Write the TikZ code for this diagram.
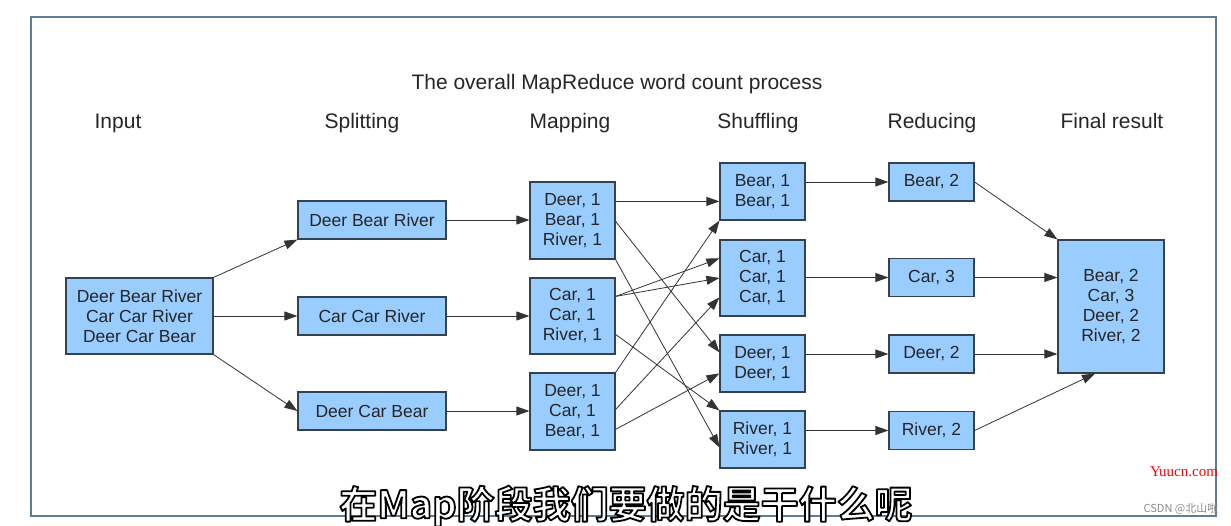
\documentclass[tikz,border=0pt]{standalone}
\usepackage{fontspec}
\setmainfont{Liberation Sans}
\newfontfamily\cjk{Noto Sans CJK SC}
\newfontfamily\cjkbold{Noto Sans CJK SC Bold}
\newfontfamily\wmserif{Liberation Serif}
\usetikzlibrary{arrows.meta,calc}
\definecolor{boxfill}{HTML}{99CCFF}
\definecolor{boxline}{HTML}{34424F}
\definecolor{framecol}{HTML}{5F7C95}
\newcommand{\outlinedtext}[1]{\special{pdf:literal direct 2 Tr 1.8 w 1 j 0 G}#1\special{pdf:literal direct 0 Tr}}
\tikzset{
  box/.style={draw=boxline, fill=boxfill, line width=1.2pt, font=\fontsize{17.5}{20}\selectfont, align=center, inner sep=0pt, text=black!85},
  hdr/.style={font=\fontsize{21}{24}\selectfont, text=black!85, anchor=base, inner sep=0pt},
  arr/.style={-{Triangle[length=13pt,width=9pt]}, line width=0.8pt, draw=black!80},
  subt/.style={font=\cjkbold\fontsize{38}{40}\selectfont, inner sep=0pt},
}
\begin{document}
\begin{tikzpicture}[x=1pt,y=-1pt]
\useasboundingbox (0,0) rectangle (1231,526);
\fill[white] (0,0) rectangle (1231,526);
\draw[framecol, line width=2pt] (31,17) rectangle (1216,516);

% headers
\node[hdr] (title) at (617,90) {The overall MapReduce word count process};
\node[hdr] (hin) at (118,129) {Input};
\node[hdr] (hsp) at (362,129) {Splitting};
\node[hdr] (hma) at (570,129) {Mapping};
\node[hdr] (hsh) at (758,129) {Shuffling};
\node[hdr] (hre) at (932,129) {Reducing};
\node[hdr] (hfi) at (1112,129) {Final result};

% input
\node[box, minimum width=147pt, minimum height=76pt] (in) at (139.5,316) {Deer Bear River\\Car Car River\\Deer Car Bear};
% splitting
\node[box, minimum width=148pt, minimum height=38pt] (s1) at (372,220) {Deer Bear River};
\node[box, minimum width=148pt, minimum height=38pt] (s2) at (372,316) {Car Car River};
\node[box, minimum width=148pt, minimum height=38pt] (s3) at (372,411) {Deer Car Bear};
% mapping
\node[box, minimum width=85pt, minimum height=77pt] (m1) at (572.5,220.5) {Deer, 1\\Bear, 1\\River, 1};
\node[box, minimum width=85pt, minimum height=76pt] (m2) at (572.5,316) {Car, 1\\Car, 1\\River, 1};
\node[box, minimum width=85pt, minimum height=77pt] (m3) at (572.5,411.5) {Deer, 1\\Car, 1\\Bear, 1};
% shuffling
\node[box, minimum width=85pt, minimum height=57pt] (h1) at (762.5,191.5) {Bear, 1\\Bear, 1};
\node[box, minimum width=85pt, minimum height=76pt] (h2) at (762.5,278) {Car, 1\\Car, 1\\Car, 1};
\node[box, minimum width=85pt, minimum height=57pt] (h3) at (762.5,363.5) {Deer, 1\\Deer, 1};
\node[box, minimum width=85pt, minimum height=57pt] (h4) at (762.5,439.5) {River, 1\\River, 1};
% reducing
\node[box, minimum width=85pt, minimum height=38pt] (r1) at (931.5,182) {Bear, 2};
\node[box, minimum width=85pt, minimum height=38pt] (r2) at (931.5,277.5) {Car, 3};
\node[box, minimum width=85pt, minimum height=38pt] (r3) at (931.5,354) {Deer, 2};
\node[box, minimum width=85pt, minimum height=38pt] (r4) at (931.5,430.5) {River, 2};
% final
\node[box, minimum width=106pt, minimum height=133pt] (fin) at (1111,306.5) {Bear, 2\\Car, 3\\Deer, 2\\River, 2};

% input -> splitting
\draw[arr] (in.north east) -- (s1.south west);
\draw[arr] (in.east) -- (s2.west);
\draw[arr] (in.south east) -- (s3.west);
% splitting -> mapping
\draw[arr] (s1.east) -- (s1.east -| m1.west);
\draw[arr] (s2.east) -- (m2.west);
\draw[arr] (s3.east) -- (s3.east -| m3.west);
% mapping -> shuffling
\draw[arr] ($(m1.north east)+(0,20)$) -- ($(h1.north west)+(0,39)$);
\draw[arr] ($(m1.north east)+(0,40)$) -- ($(h3.north west)+(0,18)$);
\draw[arr] (m1.south east) -- ($(h4.north west)+(0,37)$);
\draw[arr] ($(m2.north east)+(0,19)$) -- ($(h2.north west)+(0,19)$);
\draw[arr] ($(m2.north east)+(0,19)$) -- (h2.west);
\draw[arr] ($(m2.north east)+(0,57)$) -- (h4.north west);
\draw[arr] (m3.north east) -- (h1.south west);
\draw[arr] ($(m3.north east)+(0,37)$) -- ($(h2.north west)+(0,58)$);
\draw[arr] ($(m3.north east)+(0,57)$) -- ($(h3.north west)+(0,39)$);
% shuffling -> reducing
\draw[arr] (h1.east |- r1.west) -- (r1.west);
\draw[arr] (h2.east |- r2.west) -- (r2.west);
\draw[arr] (h3.east |- r3.west) -- (r3.west);
\draw[arr] (h4.east |- r4.west) -- (r4.west);
% reducing -> final
\draw[arr] (r1.east) -- (fin.north west);
\draw[arr] (r2.east) -- (r2.east -| fin.west);
\draw[arr] (r3.east) -- (r3.east -| fin.west);
\draw[arr] (r4.east) -- ($(fin.south)+(-16,0)$);

% watermarks
\node[font=\wmserif\fontsize{15}{16}\selectfont, text=red, inner sep=0pt] (wm1) at (1184,472) {Yuucn.com};
\node[font=\cjk\fontsize{11}{12}\selectfont, text=black!45, inner sep=0pt] (wm2) at (1181,509) {CSDN @北山啦};

% subtitle with outline
\node[subt, text=white] (sub) at (626,506) {\outlinedtext{在Map阶段我们要做的是干什么呢}};
\end{tikzpicture}
\end{document}
